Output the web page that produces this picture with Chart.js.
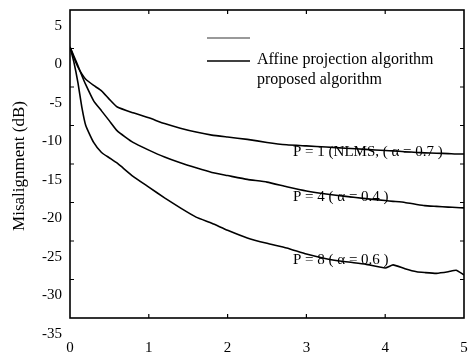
<!DOCTYPE html>
<html>
<head>
<meta charset="utf-8">
<script src="https://cdn.jsdelivr.net/npm/chart.js@4.4.0/dist/chart.umd.min.js"></script>
<style>
  html, body { margin: 0; padding: 0; background: #fff; }
  #wrap { width: 468px; height: 352px; position: relative; }
</style>
</head>
<body>
<div id="wrap"><canvas id="misChart"></canvas></div>
<script>
// iterations (x 10^4), shared by all three curves
const iterations = [0, 0.05, 0.1, 0.15, 0.2, 0.3, 0.4, 0.5, 0.6, 0.8, 1.0, 1.2, 1.4, 1.6, 1.8,
                    2.0, 2.25, 2.5, 2.75, 3.0, 3.25, 3.5, 3.75, 4.0, 4.1, 4.25, 4.4, 4.5, 4.65, 4.8, 4.9, 5.0];
// misalignment in dB
const p1Nlms = [0.2, -1.2, -2.4, -3.3, -4.0, -4.8, -5.5, -6.6, -7.6, -8.35, -9.0, -9.75, -10.35, -10.85, -11.25,
                -11.5, -11.8, -12.2, -12.5, -12.65, -12.8, -12.95, -13.1, -13.25, -13.3, -13.4, -13.5, -13.55,
                -13.6, -13.65, -13.7, -13.7];
const p4 = [0.2, -1.0, -2.2, -3.5, -4.7, -6.8, -8.1, -9.4, -10.7, -12.2, -13.2, -14.1, -14.85, -15.5, -16.1,
            -16.5, -17.0, -17.35, -17.95, -18.5, -18.9, -19.2, -19.5, -19.75, -19.85, -20.0, -20.25, -20.4,
            -20.5, -20.6, -20.65, -20.7];
const p8 = [0.2, -1.8, -4.4, -7.6, -10.0, -12.2, -13.5, -14.2, -14.9, -16.6, -18.0, -19.4, -20.7, -21.9, -22.7,
            -23.6, -24.6, -25.3, -25.9, -26.7, -27.3, -27.7, -28.0, -28.5, -28.1, -28.6, -29.0, -29.1,
            -29.2, -29.0, -28.8, -29.4];

const curveLabels = ['P = 1 (NLMS, ( \u03B1 = 0.7 )', 'P = 4 ( \u03B1 = 0.4 )', 'P = 8 ( \u03B1 = 0.6 )'];
const legendLabels = ['', 'Affine projection algorithm', 'proposed algorithm'];
const yTitle = 'Misalignment (dB)';

const serif = '"Liberation Serif", "Times New Roman", serif';

function toPoints(ys) {
    return iterations.map((x, i) => ({ x: x, y: ys[i] }));
}

function makeSet(label, ys) {
    return {
        label: label,
        data: toPoints(ys),
        borderColor: '#000',
        borderWidth: 1.6,
        pointRadius: 0,
        tension: 0.15,
        fill: false
    };
}

function noPadding(scale) {
    scale.paddingTop = 0;
    scale.paddingBottom = 0;
    scale.paddingLeft = 0;
    scale.paddingRight = 0;
}

// frame, inward ticks, notes, legend and y title
const decorations = {
    id: 'decorations',
    afterDraw(chart) {
        const ctx = chart.ctx;
        const a = chart.chartArea;
        const xs = chart.scales.x;
        const ys = chart.scales.y;
        ctx.save();
        ctx.strokeStyle = '#000';
        ctx.lineWidth = 1.6;
        ctx.strokeRect(a.left, a.top, a.right - a.left, a.bottom - a.top);

        ctx.lineWidth = 1.2;
        const tl = 4;
        xs.ticks.forEach(t => {
            const px = xs.getPixelForValue(t.value);
            if (px <= a.left + 1 || px >= a.right - 1) return;
            ctx.beginPath();
            ctx.moveTo(px, a.bottom); ctx.lineTo(px, a.bottom - tl);
            ctx.moveTo(px, a.top); ctx.lineTo(px, a.top + tl);
            ctx.stroke();
        });
        ys.ticks.forEach(t => {
            const py = ys.getPixelForValue(t.value);
            if (py <= a.top + 1 || py >= a.bottom - 1) return;
            ctx.beginPath();
            ctx.moveTo(a.left, py); ctx.lineTo(a.left + tl, py);
            ctx.moveTo(a.right, py); ctx.lineTo(a.right - tl, py);
            ctx.stroke();
        });

        // curve notes
        ctx.fillStyle = '#000';
        ctx.font = '15px ' + serif;
        ctx.textBaseline = 'middle';
        ctx.textAlign = 'left';
        const noteY = [-13.4, -19.3, -27.5];
        curveLabels.forEach((txt, i) => {
            ctx.fillText(txt, xs.getPixelForValue(2.83), ys.getPixelForValue(noteY[i]));
        });

        // legend
        ctx.font = '16px ' + serif;
        const lx0 = 207, lx1 = 250;
        ctx.lineWidth = 1.3;
        ctx.strokeStyle = '#777';
        ctx.beginPath(); ctx.moveTo(lx0, 38); ctx.lineTo(lx1, 38); ctx.stroke();
        ctx.strokeStyle = '#000';
        ctx.beginPath(); ctx.moveTo(lx0, 61); ctx.lineTo(lx1, 61); ctx.stroke();
        ctx.fillText(legendLabels[1], 257, 60);
        ctx.fillText(legendLabels[2], 257, 80);

        // y axis title
        ctx.translate(20, 166);
        ctx.rotate(-Math.PI / 2);
        ctx.textAlign = 'center';
        ctx.font = '17px ' + serif;
        ctx.fillText(yTitle, 0, 0);
        ctx.restore();
    }
};

const chart = new Chart(document.getElementById('misChart'), {
    type: 'line',
    data: {
        datasets: [
            makeSet('P = 1', p1Nlms),
            makeSet('P = 4', p4),
            makeSet('P = 8', p8)
        ]
    },
    options: {
        responsive: true,
        maintainAspectRatio: false,
        animation: false,
        layout: { padding: { top: 10, right: 4, left: 0, bottom: 0 } },
        plugins: {
            legend: { display: false },
            tooltip: { enabled: false }
        },
        scales: {
            x: {
                type: 'linear',
                min: 0,
                max: 5,
                border: { display: false },
                grid: { display: false, drawTicks: false },
                ticks: {
                    stepSize: 1,
                    color: '#000',
                    padding: 21,
                    maxRotation: 0,
                    font: { family: serif, size: 15 }
                },
                afterFit(scale) { scale.height = 34; noPadding(scale); }
            },
            y: {
                min: -35,
                max: 5,
                border: { display: false },
                grid: { display: false, drawTicks: false },
                ticks: {
                    stepSize: 5,
                    color: '#000',
                    padding: 8,
                    labelOffset: 16,
                    font: { family: serif, size: 15 }
                },
                afterFit(scale) { scale.width = 70; noPadding(scale); }
            }
        }
    },
    plugins: [decorations]
});
</script>
</body>
</html>
